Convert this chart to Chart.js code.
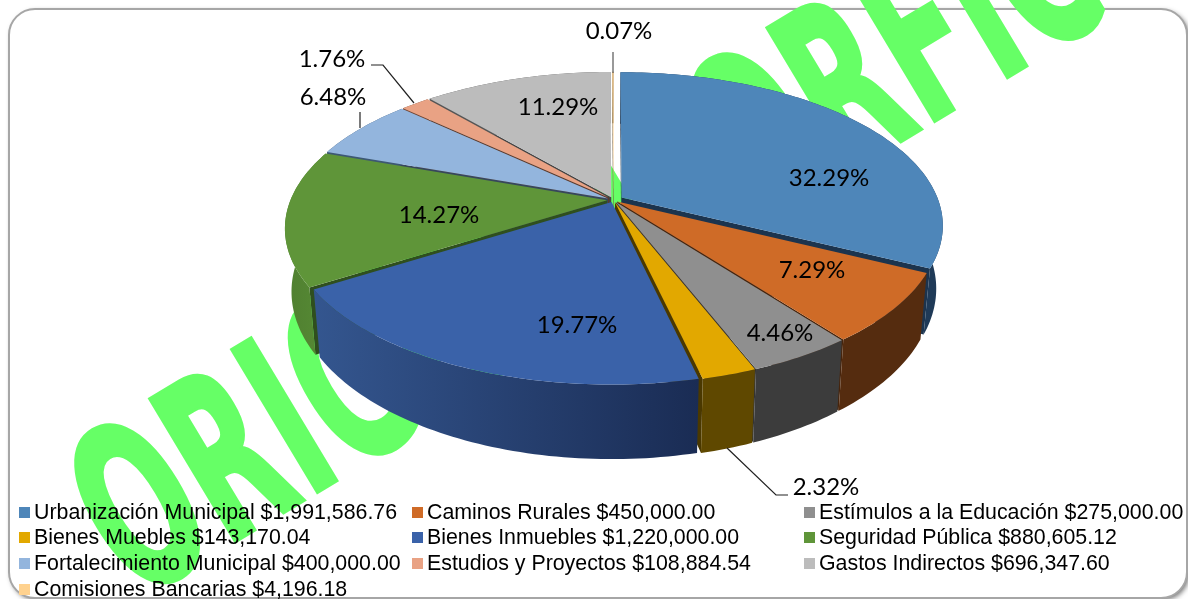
<!DOCTYPE html>
<html lang="es">
<head>
    <meta charset="UTF-8">
    <title>Distribución por rubro</title>
    <script src="https://cdn.jsdelivr.net/npm/chart.js"></script>
    <style>
        html, body { margin: 0; padding: 0; background: #fff; overflow: hidden; }
        canvas { display: block; }
    </style>
</head>
<body>
    <canvas id="pieChart" width="1188" height="599"></canvas>

    <script>
        const categories = ["Urbanización Municipal", "Caminos Rurales", "Estímulos a la Educación", "Bienes Muebles", "Bienes Inmuebles", "Seguridad Pública", "Fortalecimiento Municipal", "Estudios y Proyectos", "Gastos Indirectos", "Comisiones Bancarias"];
        const amounts = [1991586.76, 450000.00, 275000.00, 143170.04, 1220000.00, 880605.12, 400000.00, 108884.54, 696347.60, 4196.18];
        const percentLabels = ["32.29%", "7.29%", "4.46%", "2.32%", "19.77%", "14.27%", "6.48%", "1.76%", "11.29%", "0.07%"];
        const topColors = ["#4e86b9", "#cf6b27", "#8f8f8f", "#e2a800", "#3a62a9", "#5f9539", "#93b5dd", "#e9a284", "#bcbcbc", "#ffd28f"];
        const wallColors = ["#1f3a57", "#552c0f", "#3c3c3c", "#5f4800", "#34568f", "#4f7f30", "#3d5873", "#6e4534", "#555555", "#7a6540"];
        const wallColorsEnd = ["#1f3a57", "#552c0f", "#3c3c3c", "#5f4800", "#1a2c54", "#578a35", "#3d5873", "#6e4534", "#555555", "#7a6540"];
        const faceColors = ["#1c344e", "#46240c", "#333333", "#4a3800", "#1a2c54", "#2f4f1e", "#37475c", "#5c3a2b", "#444444", "#6a5636"];

        // where each percentage sits, and the leader line going to the slice if it has one
        const labelSpots = [[829, 178], [812, 270], [780, 333], [826, 487], [577, 325], [439, 215], [333, 97], [332, 59], [558, 107], [619, 31]];
        const leaderLines = [
            { from: [727, 448], bend: [776, 495], to: [788, 495] },
            { from: [360, 128], to: [360, 112] },
            { from: [414, 103], bend: [383, 65], to: [371, 65] },
            { from: [613, 73], to: [613, 52], color: "#555555" }
        ];

        // legend grid: three columns, filled row by row
        const legendColumns = [19, 412, 804];
        const legendRows = [512, 537, 563, 589];

        const spreadX = 1.607;   // pie width / radius
        const spreadY = 0.755;   // pie depth / radius
        const tilt = 0.18;       // front of the pie comes closer
        const wallHeight = 61;

        function project(el, u, v, down) {
            let s = 1 / (1 - tilt * v);
            let narrow = down ? 0.98 : 1;
            return {
                x: el.x + el.outerRadius * spreadX * u * s * narrow,
                y: el.y + el.outerRadius * spreadY * v * s + (down ? wallHeight * s : 0)
            };
        }

        function slicePoints(el) {
            let mid = (el.startAngle + el.endAngle) / 2;
            let e = el.options.offset / el.outerRadius;
            let ox = Math.cos(mid) * e;
            let oy = Math.sin(mid) * e;
            let steps = Math.max(2, Math.ceil((el.endAngle - el.startAngle) / 0.02));
            let rim = [];
            for (let i = 0; i <= steps; i++) {
                let a = el.startAngle + (el.endAngle - el.startAngle) * i / steps;
                rim.push([Math.cos(a) + ox, Math.sin(a) + oy]);
            }
            return { rim: rim, apex: [ox, oy] };
        }

        function fillPoly(ctx, pts, color) {
            ctx.beginPath();
            pts.forEach((p, i) => i ? ctx.lineTo(p.x, p.y) : ctx.moveTo(p.x, p.y));
            ctx.closePath();
            ctx.fillStyle = color;
            ctx.fill();
        }

        function polyArea(pts) {
            let area = 0;
            pts.forEach((p, i) => {
                let q = pts[(i + 1) % pts.length];
                area += p.x * q.y - q.x * p.y;
            });
            return area;
        }

        function drawSlice(ctx, el, i) {
            let { rim, apex } = slicePoints(el);

            // the two cut faces, only when they turn towards the viewer
            [[rim[0], -1], [rim[rim.length - 1], 1]].forEach(([edge, side]) => {
                let face = [
                    project(el, apex[0], apex[1], false),
                    project(el, edge[0], edge[1], false),
                    project(el, edge[0], edge[1], true),
                    project(el, apex[0], apex[1], true)
                ];
                if (polyArea(face) * side > 0) fillPoly(ctx, face, faceColors[i]);
            });

            // outer wall
            let upper = rim.map(p => project(el, p[0], p[1], false));
            let lower = rim.map(p => project(el, p[0], p[1], true)).reverse();
            let xs = upper.map(p => p.x);
            let grad = ctx.createLinearGradient(Math.max(...xs), 0, Math.min(...xs), 0);
            grad.addColorStop(0, wallColorsEnd[i]);
            grad.addColorStop(1, wallColors[i]);
            fillPoly(ctx, upper.concat(lower), grad);

            // top
            fillPoly(ctx, [project(el, apex[0], apex[1], false)].concat(upper), el.options.backgroundColor);
        }

        const pie3d = {
            id: "pie3d",
            beforeDraw(chart) {
                let ctx = chart.ctx;
                ctx.save();
                ctx.fillStyle = "#ffffff";
                ctx.fillRect(0, 0, chart.width, chart.height);

                // panel
                ctx.shadowColor = "rgba(0,0,0,0.55)";
                ctx.shadowBlur = 5;
                ctx.shadowOffsetX = 2;
                ctx.shadowOffsetY = 2;
                ctx.beginPath();
                ctx.roundRect(9, 9, 1178, 589, 26);
                ctx.fill();
                ctx.shadowColor = "transparent";
                ctx.strokeStyle = "#a6a6a6";
                ctx.lineWidth = 2;
                ctx.stroke();

                // watermark
                ctx.translate(135, 601);
                ctx.rotate(-31 * Math.PI / 180);
                ctx.scale(0.54, 1);
                ctx.font = "bold 226px 'DejaVu Sans'";
                ctx.letterSpacing = "3px";
                ctx.fillStyle = "#66ff66";
                ctx.strokeStyle = "#66ff66";
                ctx.lineWidth = 5;
                ctx.lineJoin = "miter";
                ctx.strokeText("ORIGINAL ORFIC", 0, 0);
                ctx.fillText("ORIGINAL ORFIC", 0, 0);
                ctx.restore();
            },
            beforeDatasetsDraw(chart) {
                let ctx = chart.ctx;
                let arcs = chart.getDatasetMeta(0).data;
                // back slices first; a slice's nearest rim point decides
                let nearest = arcs.map(el => Math.max(...slicePoints(el).rim.map(p => p[1])));
                let order = arcs.map((el, i) => i).sort((a, b) => nearest[a] - nearest[b]);
                ctx.save();
                order.forEach(i => drawSlice(ctx, arcs[i], i));
                ctx.restore();
                return false;
            },
            afterDraw(chart) {
                let ctx = chart.ctx;
                ctx.save();

                leaderLines.forEach(line => {
                    ctx.beginPath();
                    ctx.moveTo(line.from[0], line.from[1]);
                    if (line.bend) ctx.lineTo(line.bend[0], line.bend[1]);
                    ctx.lineTo(line.to[0], line.to[1]);
                    ctx.strokeStyle = line.color || "#222222";
                    ctx.lineWidth = 1.2;
                    ctx.stroke();
                });

                ctx.fillStyle = "#000000";
                ctx.font = "24px Lato";
                ctx.textAlign = "center";
                ctx.textBaseline = "middle";
                percentLabels.forEach((text, i) => ctx.fillText(text, labelSpots[i][0], labelSpots[i][1]));

                ctx.font = "21.35px 'Liberation Sans'";
                ctx.textAlign = "left";
                categories.forEach((name, i) => {
                    let x = legendColumns[i % 3];
                    let y = legendRows[Math.floor(i / 3)];
                    let money = amounts[i].toLocaleString("en-US", { minimumFractionDigits: 2, maximumFractionDigits: 2 });
                    ctx.fillStyle = topColors[i];
                    ctx.fillRect(x, y - 5, 11, 11);
                    ctx.fillStyle = "#000000";
                    ctx.fillText(name + " $" + money, x + 15, y + 1);
                });
                ctx.restore();
            }
        };

        new Chart(document.getElementById("pieChart"), {
            type: "pie",
            data: {
                labels: categories,
                datasets: [{
                    data: amounts,
                    backgroundColor: topColors,
                    borderWidth: 0,
                    offset: [6, 3, 3, 3, 3, 4, 4, 4, 4, 4]
                }]
            },
            options: {
                responsive: false,
                animation: false,
                layout: { padding: { left: 39, right: 0, top: 0, bottom: 199 } },
                plugins: { legend: { display: false }, tooltip: { enabled: false } }
            },
            plugins: [pie3d]
        });
    </script>
</body>
</html>
